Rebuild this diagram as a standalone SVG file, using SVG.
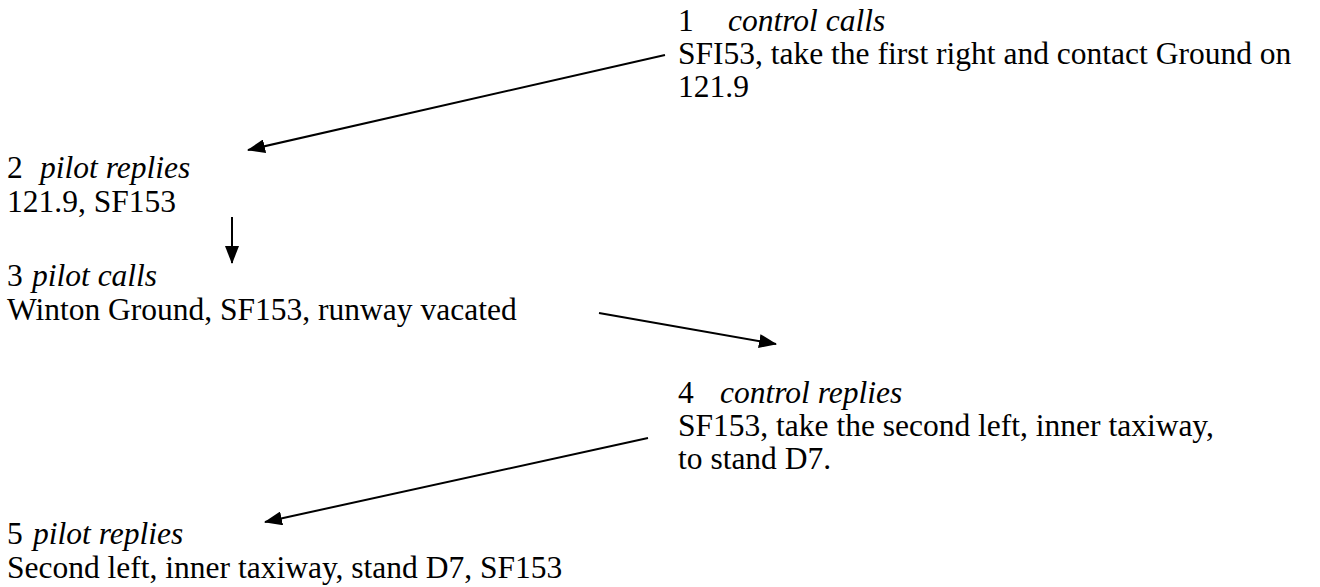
<svg xmlns="http://www.w3.org/2000/svg" width="1320" height="587" viewBox="0 0 1320 587">
<style>
text{font-family:"Liberation Serif","Times New Roman",serif;font-size:31.5px;fill:#000}
.i{font-style:italic}
.c{stroke:#000;stroke-width:2;fill:none}
</style>
<defs>
<marker id="ah" markerUnits="userSpaceOnUse" markerWidth="18" markerHeight="14" refX="17" refY="7" orient="auto">
<path d="M0,0 L18,7 L0,14 Z" fill="#000"/>
</marker>
</defs>
<rect width="1320" height="587" fill="#fff"/>
<g id="n1">
<text x="678" y="31">1<tspan class="i" x="728">control calls</tspan></text>
<text x="678" y="64">SFI53, take the first right and contact Ground on</text>
<text x="678" y="97">121.9</text>
</g>
<g id="n2">
<text x="7" y="178">2<tspan class="i" x="40">pilot replies</tspan></text>
<text x="7" y="212">121.9, SF153</text>
</g>
<g id="n3">
<text x="7" y="286">3<tspan class="i" x="32">pilot calls</tspan></text>
<text x="7" y="320">Winton Ground, SF153, runway vacated</text>
</g>
<g id="n4">
<text x="678" y="403">4<tspan class="i" x="720">control replies</tspan></text>
<text x="678" y="436">SF153, take the second left, inner taxiway,</text>
<text x="678" y="469">to stand D7.</text>
</g>
<g id="n5">
<text x="7" y="544">5<tspan class="i" x="33">pilot replies</tspan></text>
<text x="7" y="578">Second left, inner taxiway, stand D7, SF153</text>
</g>
<g id="connectors">
<line class="c" x1="665" y1="55" x2="248" y2="150" marker-end="url(#ah)"/>
<line class="c" x1="232" y1="217" x2="232" y2="263" marker-end="url(#ah)"/>
<line class="c" x1="599" y1="313" x2="776" y2="344" marker-end="url(#ah)"/>
<line class="c" x1="648" y1="438" x2="265" y2="522" marker-end="url(#ah)"/>
</g>
</svg>
